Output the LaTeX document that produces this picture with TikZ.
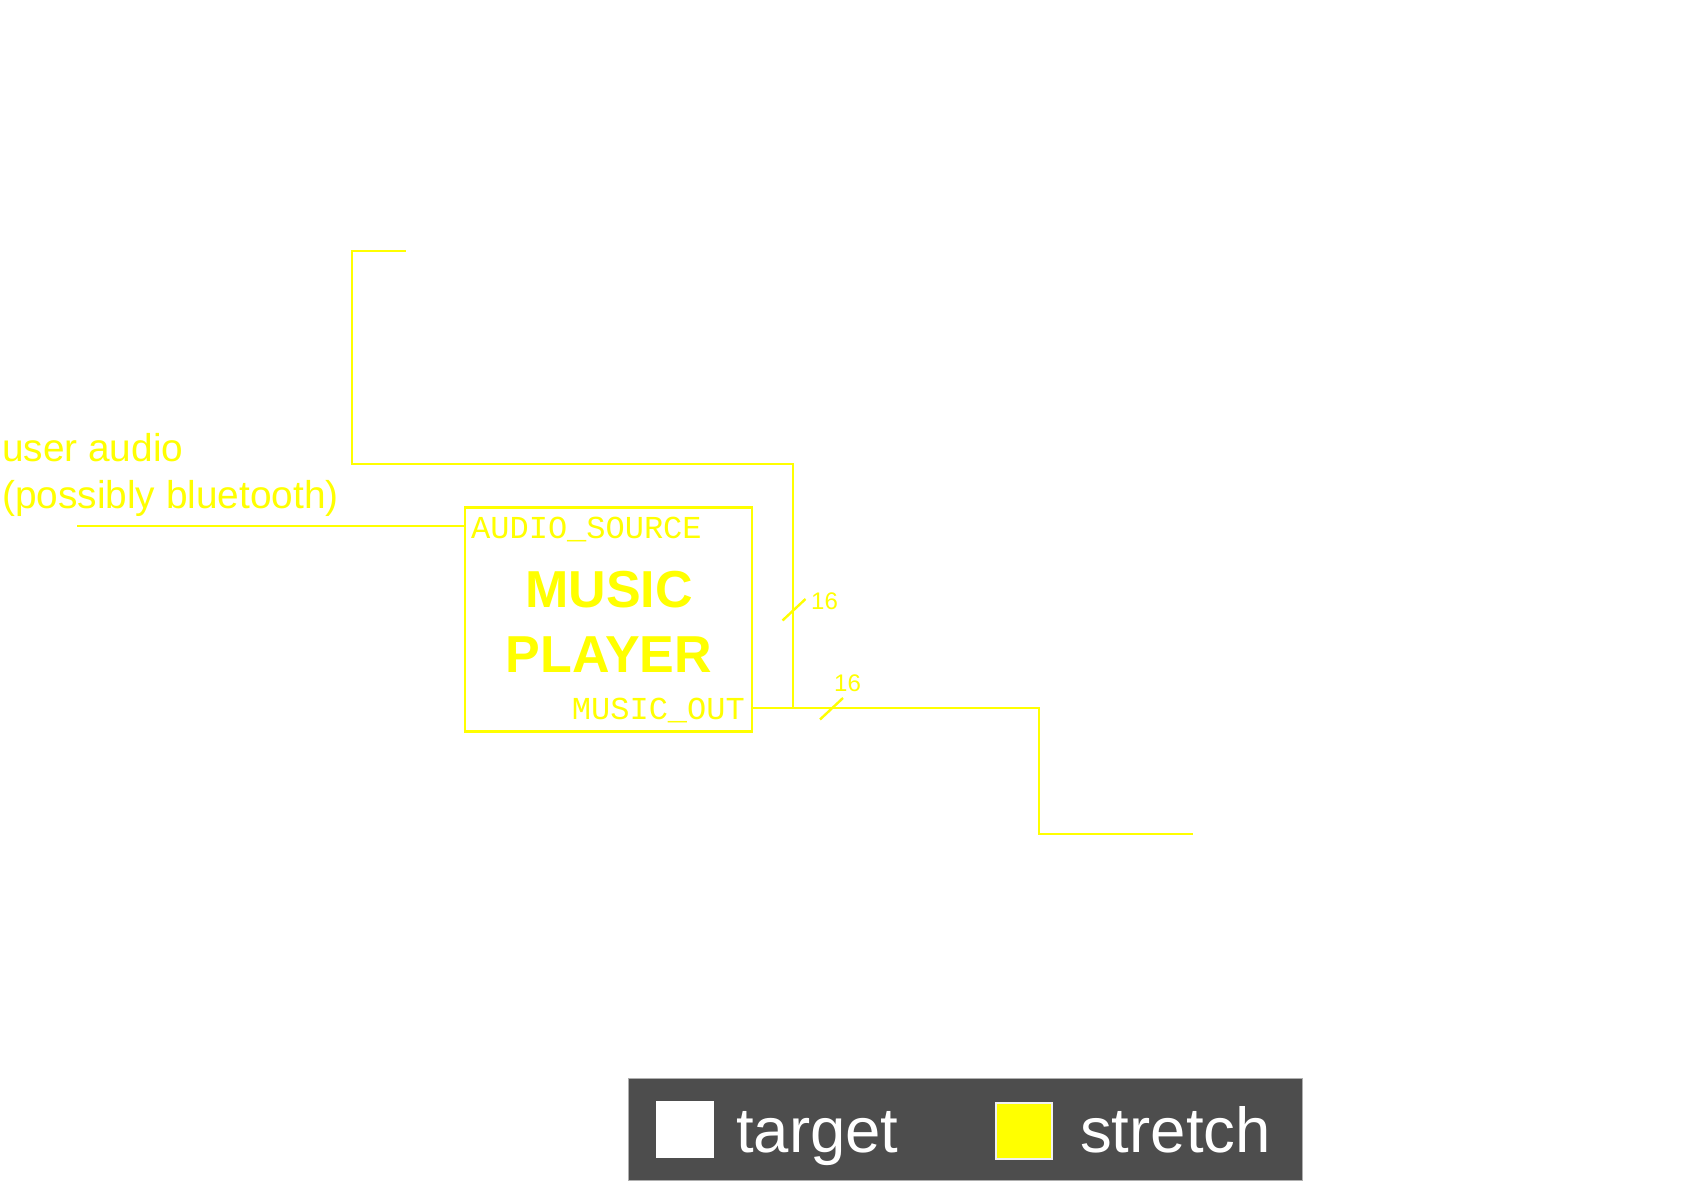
\documentclass[tikz,border=0pt]{standalone}
\usepackage{fontspec}
\setmainfont{Liberation Sans}
\setmonofont{Liberation Mono}
\definecolor{ylw}{RGB}{255,255,0}
\definecolor{legbg}{RGB}{77,77,77}
\definecolor{legline}{RGB}{175,175,175}
\begin{document}
\begin{tikzpicture}[x=1pt,y=-1pt,
  wire/.style={draw=ylw, line width=2.6pt, line join=miter},
  tick/.style={draw=ylw, line width=2.4pt},
  lbl/.style={text=ylw, inner sep=0pt, anchor=base west, font=\fontsize{38.8}{44}\selectfont},
  port/.style={text=ylw, inner sep=0pt, font=\ttfamily\fontsize{32}{36}\selectfont},
  title/.style={text=ylw, inner sep=0pt, anchor=base, font=\bfseries\fontsize{52}{60}\selectfont},
  width/.style={text=ylw, inner sep=0pt, anchor=base west, font=\fontsize{24}{28}\selectfont},
  legtext/.style={text=white, inner sep=0pt, anchor=base west, font=\fontsize{63.5}{70}\selectfont}]
\useasboundingbox (0,0) rectangle (1707,1183);
% block
\node[draw=ylw, line width=2.6pt, minimum width=287pt, minimum height=224pt, inner sep=0pt, anchor=north west] (player) at (463.8,506.3) {};
\node[port, anchor=base west] (psrc) at (471,538) {AUDIO\_SOURCE};
\node[port, anchor=base east] (pout) at (745,719) {MUSIC\_OUT};
\node[title] (t1) at (609,607) {MUSIC};
\node[title] (t2) at (609,672) {PLAYER};
% input label
\node[lbl] (ua1) at (2,461) {user audio};
\node[lbl] (ua2) at (2,508) {(possibly bluetooth)};
% wire coordinates
\coordinate (inA) at (77,526);
\coordinate (src) at (player.west |- inA);
\coordinate (out) at (player.east |- 0,708);
\coordinate (j) at (793,708);
\coordinate (up1) at (793,464);
\coordinate (up2) at (352,464);
\coordinate (up3) at (352,251);
\coordinate (up4) at (406,251);
\coordinate (dn1) at (1039,708);
\coordinate (dn2) at (1039,834);
\coordinate (dn3) at (1193,834);
% wires
\draw[wire] (inA) -- (src);
\draw[wire] (out) -- (j) -- (dn1) -- (dn2) -- (dn3);
\draw[wire] (j) -- (up1) -- (up2) -- (up3) -- (up4);
% bus width ticks
\draw[tick] (782.5,620.5) -- (805.5,599);
\node[width] (w1) at (811,609) {16};
\draw[tick] (820,719.5) -- (843,698);
\node[width] (w2) at (834,691) {16};
% legend
\node[fill=legbg, draw=legline, line width=1pt, minimum width=674pt, minimum height=102pt, inner sep=0pt, anchor=north west] (legend) at (628,1078) {};
\node[fill=white, minimum width=58pt, minimum height=57pt, inner sep=0pt, anchor=north west] (ksq1) at (656,1101) {};
\node[legtext] (k1) at (736,1152) {target};
\node[fill=ylw, draw=white!88!gray, line width=1.6pt, minimum width=56pt, minimum height=56pt, inner sep=0pt, anchor=north west] (ksq2) at (995,1102) {};
\node[legtext] (k2) at (1080,1152) {stretch};
\end{tikzpicture}
\end{document}
